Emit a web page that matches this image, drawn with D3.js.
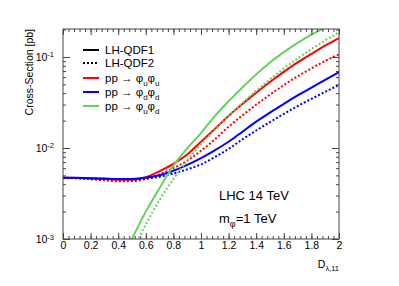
<!DOCTYPE html>
<html>
<head>
<meta charset="utf-8">
<script src="https://cdn.jsdelivr.net/npm/d3@7"></script>
<style>
  body { margin: 0; background: #fff; }
  svg text { font-family: "Liberation Sans", Arial, sans-serif; fill: #000; }
</style>
</head>
<body>
<svg id="chart" width="399" height="286"></svg>
<script>
// D_lambda,11 sampling points
var dValues = [0, 0.1, 0.2, 0.3, 0.4, 0.5, 0.6, 0.7, 0.8, 0.9, 1.0,
               1.1, 1.2, 1.3, 1.4, 1.5, 1.6, 1.7, 1.8, 1.9, 2.0];

// cross-sections [pb]
var uuQdf1 = [0.00472, 0.00469, 0.00463, 0.00456, 0.00449, 0.00449, 0.00478, 0.00556, 0.00668, 0.00847, 0.0117,
              0.0162, 0.0225, 0.0304, 0.0406, 0.0531, 0.0685, 0.0871, 0.108, 0.133, 0.161];
var uuQdf2 = [0.00472, 0.00465, 0.00454, 0.00441, 0.00431, 0.00433, 0.00457, 0.00513, 0.0060, 0.00724, 0.00933,
              0.01245, 0.0171, 0.0228, 0.0299, 0.0386, 0.0491, 0.0614, 0.075, 0.0904, 0.107];
var ddQdf1 = [0.00472, 0.0047, 0.00466, 0.00461, 0.00457, 0.00457, 0.0047, 0.00501, 0.00562, 0.00653, 0.00776,
              0.00944, 0.0117, 0.0151, 0.0195, 0.0245, 0.0305, 0.0378, 0.0461, 0.0561, 0.0684];
var ddQdf2 = [0.00468, 0.00467, 0.00463, 0.00459, 0.00455, 0.00454, 0.00461, 0.00483, 0.00525, 0.00582, 0.00661,
              0.00794, 0.00977, 0.01245, 0.01556, 0.01928, 0.02366, 0.02884, 0.03467, 0.0414, 0.0492];
var udQdf1 = [null, null, null, null, 0.000468, 0.001, 0.002, 0.00363, 0.00638, 0.00989, 0.0146,
              0.0224, 0.0326, 0.0462, 0.0644, 0.0871, 0.113, 0.143, 0.176, 0.209, 0.243];
var udQdf2 = [null, null, null, null, 0.000339, 0.000708, 0.00145, 0.00269, 0.00457, 0.00724, 0.011,
              0.0158, 0.0223, 0.0311, 0.0425, 0.0569, 0.0746, 0.0964, 0.122, 0.152, 0.187];

var xTicks = [0, 0.2, 0.4, 0.6, 0.8, 1, 1.2, 1.4, 1.6, 1.8, 2];
var yDecades = [0.001, 0.01, 0.1];

var colRed = "#ff0000", colBlue = "#0000ff", colGreen = "#62d258";

var series = [
    {values: uuQdf1, color: colRed, dotted: false},
    {values: uuQdf2, color: colRed, dotted: true},
    {values: ddQdf1, color: colBlue, dotted: false},
    {values: ddQdf2, color: colBlue, dotted: true},
    {values: udQdf1, color: colGreen, dotted: false},
    {values: udQdf2, color: colGreen, dotted: true}
];

var svg = d3.select("#chart");
var frame = {left: 63, right: 339, top: 29, bottom: 239};

var x = d3.scaleLinear().domain([0, 2]).range([frame.left, frame.right]);
var y = d3.scaleLog().domain([0.001, 0.203]).range([frame.bottom, frame.top]);

svg.append("defs").append("clipPath").attr("id", "frameClip")
    .append("rect")
    .attr("x", frame.left).attr("y", frame.top)
    .attr("width", frame.right - frame.left).attr("height", frame.bottom - frame.top);

// curves
var line = d3.line()
    .defined(function (d) { return d.v !== null; })
    .x(function (d) { return x(d.x); })
    .y(function (d) { return y(d.v); })
    .curve(d3.curveMonotoneX);

var curves = svg.append("g").attr("clip-path", "url(#frameClip)");
series.forEach(function (s) {
    var pts = dValues.map(function (d, i) { return {x: d, v: s.values[i]}; });
    curves.append("path")
        .datum(pts)
        .attr("d", line)
        .attr("fill", "none")
        .attr("stroke", s.color)
        .attr("stroke-width", 2)
        .attr("stroke-dasharray", s.dotted ? "2,2" : null);
});

// minor tick values
var xMinor = d3.range(0, 2.0001, 0.04).map(function (v) { return +v.toFixed(2); });
var yMinor = [];
yDecades.forEach(function (dec) {
    for (var k = 2; k <= 9; k++) if (dec * k <= 0.203) yMinor.push(dec * k);
});

function styleAxis(g) {
    g.select(".domain").remove();
    g.selectAll(".tick line").attr("stroke", "#444");
}

// bottom axis
svg.append("g").attr("transform", "translate(0," + frame.bottom + ")")
    .call(d3.axisBottom(x).tickValues(xMinor).tickSizeInner(-3).tickSizeOuter(0).tickFormat(""))
    .call(styleAxis);
svg.append("g").attr("transform", "translate(0," + frame.bottom + ")")
    .call(d3.axisBottom(x).tickValues(xTicks).tickSizeInner(-6).tickSizeOuter(0).tickPadding(3)
        .tickFormat(function (d) { return d3.format("")(d); }))
    .call(styleAxis)
    .selectAll(".tick text").attr("font-size", 10.5).attr("fill", "#000");

// top axis
svg.append("g").attr("transform", "translate(0," + frame.top + ")")
    .call(d3.axisTop(x).tickValues(xMinor).tickSizeInner(-3).tickSizeOuter(0).tickFormat(""))
    .call(styleAxis);
svg.append("g").attr("transform", "translate(0," + frame.top + ")")
    .call(d3.axisTop(x).tickValues(xTicks).tickSizeInner(-6).tickSizeOuter(0).tickFormat(""))
    .call(styleAxis);

// left axis
svg.append("g").attr("transform", "translate(" + frame.left + ",0)")
    .call(d3.axisLeft(y).tickValues(yMinor).tickSizeInner(-3).tickSizeOuter(0).tickFormat(""))
    .call(styleAxis);
var yAxisG = svg.append("g").attr("transform", "translate(" + frame.left + ",0)")
    .call(d3.axisLeft(y).tickValues(yDecades).tickSizeInner(-7).tickSizeOuter(0).tickPadding(9)
        .tickFormat(""))
    .call(styleAxis);
yAxisG.selectAll(".tick text")
    .attr("font-size", 10.5)
    .each(function (d) {
        var t = d3.select(this);
        t.append("tspan").text("10");
        t.append("tspan").attr("dy", "-0.45em").attr("font-size", 7.5)
            .text("-" + Math.round(-Math.log10(d)));
    });

// right axis
svg.append("g").attr("transform", "translate(" + frame.right + ",0)")
    .call(d3.axisRight(y).tickValues(yMinor).tickSizeInner(-3).tickSizeOuter(0).tickFormat(""))
    .call(styleAxis);
svg.append("g").attr("transform", "translate(" + frame.right + ",0)")
    .call(d3.axisRight(y).tickValues(yDecades).tickSizeInner(-7).tickSizeOuter(0).tickFormat(""))
    .call(styleAxis);

// frame
svg.append("rect")
    .attr("x", frame.left).attr("y", frame.top)
    .attr("width", frame.right - frame.left).attr("height", frame.bottom - frame.top)
    .attr("fill", "none").attr("stroke", "#444").attr("stroke-width", 1);

// axis titles
var xTitle = svg.append("text").attr("x", frame.right).attr("y", 268)
    .attr("text-anchor", "end").attr("font-size", 10.5);
xTitle.append("tspan").text("D");
xTitle.append("tspan").attr("dy", 3).attr("font-size", 7.5).text("\u03bb,11");

svg.append("text")
    .attr("transform", "translate(33," + frame.top + ") rotate(-90)")
    .attr("text-anchor", "end")
    .attr("font-size", 10.5)
    .text("Cross-Section [pb]");

// legend
var legend = [
    {label: [["LH-QDF1", 0]], color: "#000", dotted: false, y: 50},
    {label: [["LH-QDF2", 0]], color: "#000", dotted: true, y: 63},
    {label: [["pp \u2192 \u03c6", 0], ["u", 1], ["\u03c6", 0], ["u", 1]], color: colRed, dotted: false, y: 78},
    {label: [["pp \u2192 \u03c6", 0], ["d", 1], ["\u03c6", 0], ["d", 1]], color: colBlue, dotted: false, y: 92},
    {label: [["pp \u2192 \u03c6", 0], ["u", 1], ["\u03c6", 0], ["d", 1]], color: colGreen, dotted: false, y: 106}
];
legend.forEach(function (e) {
    svg.append("line")
        .attr("x1", 83).attr("x2", 99).attr("y1", e.y).attr("y2", e.y)
        .attr("stroke", e.color).attr("stroke-width", 2)
        .attr("stroke-dasharray", e.dotted ? "2,2" : null);
    var t = svg.append("text").attr("x", 105).attr("y", e.y + 4).attr("font-size", 11.5);
    var sub = 0;
    e.label.forEach(function (p) {
        var ts = t.append("tspan").text(p[0]);
        if (p[1] && !sub) { ts.attr("dy", 4).attr("font-size", 8); sub = 1; }
        else if (!p[1] && sub) { ts.attr("dy", -4); sub = 0; }
        else if (p[1]) ts.attr("font-size", 8);
    });
});

// annotations
svg.append("text").attr("x", 219).attr("y", 200).attr("font-size", 13).text("LHC 14 TeV");
var mText = svg.append("text").attr("x", 219).attr("y", 223).attr("font-size", 13);
mText.append("tspan").text("m");
mText.append("tspan").attr("dy", 4).attr("font-size", 9).text("\u03c6");
mText.append("tspan").attr("dy", -4).text("=1 TeV");
</script>
</body>
</html>
